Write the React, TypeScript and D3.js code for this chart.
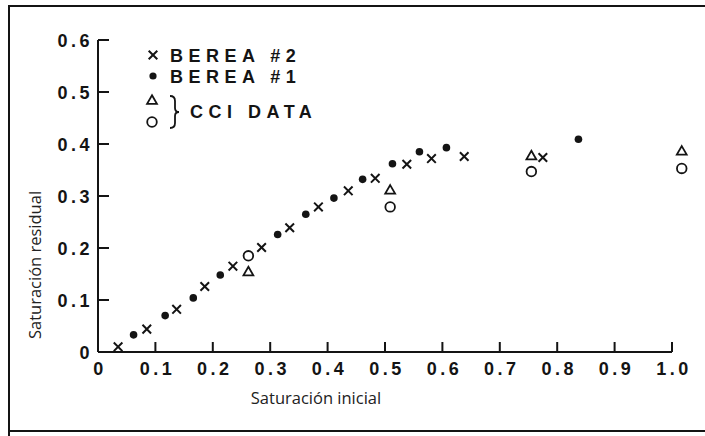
// src/App.tsx

import React, { useEffect, useRef } from 'react';
import * as d3 from 'd3';

// Berea #2 (crosses)
const berea2X = [0.035, 0.085, 0.137, 0.186, 0.235, 0.285, 0.334, 0.384, 0.436, 0.483, 0.538, 0.581, 0.638, 0.775];
const berea2Y = [0.010, 0.044, 0.082, 0.126, 0.165, 0.201, 0.239, 0.279, 0.310, 0.334, 0.361, 0.372, 0.376, 0.374];

// Berea #1 (filled dots)
const berea1X = [0.062, 0.117, 0.166, 0.213, 0.313, 0.362, 0.411, 0.461, 0.513, 0.560, 0.607, 0.837];
const berea1Y = [0.033, 0.070, 0.104, 0.148, 0.226, 0.265, 0.296, 0.332, 0.362, 0.385, 0.393, 0.409];

// CCI data (triangles and open circles)
const cciX = [0.262, 0.509, 0.755, 1.017];
const cciTriangleY = [0.153, 0.310, 0.376, 0.385];
const cciCircleY = [0.185, 0.279, 0.347, 0.353];

const xTicks = [0, 0.1, 0.2, 0.3, 0.4, 0.5, 0.6, 0.7, 0.8, 0.9, 1.0];
const xTickLabels = ['0', '0.1', '0.2', '0.3', '0.4', '0.5', '0.6', '0.7', '0.8', '0.9', '1.0'];
const yTicks = [0, 0.1, 0.2, 0.3, 0.4, 0.5, 0.6];
const yTickLabels = ['0', '0.1', '0.2', '0.3', '0.4', '0.5', '0.6'];

const xTitle = 'Saturación inicial';
const yTitle = 'Saturación residual';
const legendLabels = ['BEREA #2', 'BEREA #1', 'CCI DATA'];

const Chart: React.FC = () => {
  const svgRef = useRef<SVGSVGElement>(null);

  useEffect(() => {
    const width = 705;
    const height = 436;
    const ink = '#141414';
    const boldFont = '"Liberation Sans", Arial, sans-serif';

    const svg = d3.select(svgRef.current)
      .attr('width', width)
      .attr('height', height);
    svg.selectAll('*').remove();

    svg.append('rect').attr('width', width).attr('height', height).attr('fill', '#fff');

    // frame
    svg.append('path')
      .attr('d', 'M9,436 V6 H706 M9,431 H706')
      .attr('fill', 'none')
      .attr('stroke', ink)
      .attr('stroke-width', 2);

    const x = d3.scaleLinear().domain([0, 1]).range([98, 672]);
    const y = d3.scaleLinear().domain([0, 0.6]).range([352, 40]);

    // axis lines plus inward ticks, drawn as one path each
    const xAxisPath = d3.path();
    xAxisPath.moveTo(x(0), y(0));
    xAxisPath.lineTo(x(1), y(0));
    xTicks.slice(1).forEach(t => {
      xAxisPath.moveTo(x(t), y(0));
      xAxisPath.lineTo(x(t), y(0) - 10);
    });
    const yAxisPath = d3.path();
    yAxisPath.moveTo(x(0), y(0));
    yAxisPath.lineTo(x(0), y(0.6));
    yTicks.slice(1).forEach(t => {
      yAxisPath.moveTo(x(0), y(t));
      yAxisPath.lineTo(x(0) + 11, y(t));
    });
    svg.append('path')
      .attr('d', xAxisPath.toString() + yAxisPath.toString())
      .attr('fill', 'none')
      .attr('stroke', ink)
      .attr('stroke-width', 2);

    // tick labels
    svg.append('g')
      .selectAll('text')
      .data(xTicks)
      .enter()
      .append('text')
      .attr('x', d => x(d) + 2)
      .attr('y', y(0) + 23)
      .attr('text-anchor', 'middle')
      .attr('font-family', boldFont)
      .attr('font-weight', 'bold')
      .attr('font-size', 18)
      .attr('letter-spacing', 3.5)
      .attr('fill', ink)
      .text((d, i) => xTickLabels[i]);

    svg.append('g')
      .selectAll('text')
      .data(yTicks)
      .enter()
      .append('text')
      .attr('x', x(0) - 5)
      .attr('y', d => y(d) + 6.5)
      .attr('text-anchor', 'end')
      .attr('font-family', boldFont)
      .attr('font-weight', 'bold')
      .attr('font-size', 18)
      .attr('letter-spacing', 3.5)
      .attr('fill', ink)
      .text((d, i) => yTickLabels[i]);

    // axis titles
    svg.append('text')
      .attr('x', 316)
      .attr('y', 404)
      .attr('text-anchor', 'middle')
      .attr('font-family', '"Open Sans", sans-serif')
      .attr('font-size', 16.5)
      .attr('fill', '#222')
      .text(xTitle);
    svg.append('text')
      .attr('transform', 'translate(41,265) rotate(-90)')
      .attr('text-anchor', 'middle')
      .attr('font-family', '"Open Sans", sans-serif')
      .attr('font-size', 16.5)
      .attr('fill', '#222')
      .text(yTitle);

    // marker helpers
    const cross = (g: any, cx: number, cy: number) => {
      g.append('path')
        .attr('d', `M${cx - 4.3},${cy - 4.3}L${cx + 4.3},${cy + 4.3}M${cx - 4.3},${cy + 4.3}L${cx + 4.3},${cy - 4.3}`)
        .attr('stroke', ink).attr('stroke-width', 2).attr('fill', 'none');
    };
    const tri = d3.symbol().type(d3.symbolTriangle).size(42);

    const marks = svg.append('g');

    berea2X.forEach((v, i) => cross(marks, x(v), y(berea2Y[i])));

    marks.selectAll('circle.b1')
      .data(berea1X)
      .enter()
      .append('circle')
      .attr('class', 'b1')
      .attr('cx', d => x(d))
      .attr('cy', (d, i) => y(berea1Y[i]))
      .attr('r', 3.8)
      .attr('fill', ink);

    marks.selectAll('path.tri')
      .data(cciX)
      .enter()
      .append('path')
      .attr('class', 'tri')
      .attr('d', tri as any)
      .attr('transform', (d, i) => `translate(${x(d)},${y(cciTriangleY[i])})`)
      .attr('fill', 'none')
      .attr('stroke', ink)
      .attr('stroke-width', 1.8);

    marks.selectAll('circle.cci')
      .data(cciX)
      .enter()
      .append('circle')
      .attr('class', 'cci')
      .attr('cx', d => x(d))
      .attr('cy', (d, i) => y(cciCircleY[i]))
      .attr('r', 4.8)
      .attr('fill', 'none')
      .attr('stroke', ink)
      .attr('stroke-width', 1.8);

    // legend
    const legend = svg.append('g');
    cross(legend, 153, 55);
    legend.append('circle').attr('cx', 153).attr('cy', 76).attr('r', 3.6).attr('fill', ink);
    legend.append('path').attr('d', tri as any).attr('transform', 'translate(152,101)')
      .attr('fill', 'none').attr('stroke', ink).attr('stroke-width', 1.8);
    legend.append('circle').attr('cx', 152).attr('cy', 122).attr('r', 4.8)
      .attr('fill', 'none').attr('stroke', ink).attr('stroke-width', 1.8);
    legend.append('path')
      .attr('d', 'M170,96 Q175,96 175,101 L175,108 Q175,112 179,112 Q175,112 175,116 L175,123 Q175,128 170,128')
      .attr('fill', 'none').attr('stroke', ink).attr('stroke-width', 1.8);

    const legendPos = [[170, 62], [170, 83], [190, 118]];
    legend.selectAll('text')
      .data(legendLabels)
      .enter()
      .append('text')
      .attr('x', (d, i) => legendPos[i][0])
      .attr('y', (d, i) => legendPos[i][1])
      .attr('font-family', boldFont)
      .attr('font-weight', 'bold')
      .attr('font-size', 18)
      .attr('letter-spacing', 5.5)
      .attr('fill', ink)
      .text(d => d);
  }, []);

  return <svg ref={svgRef} style={{ display: 'block' }}></svg>;
};

const App: React.FC = () => {
  useEffect(() => {
    document.body.style.margin = '0';
  }, []);
  return <Chart />;
};

export default App;
